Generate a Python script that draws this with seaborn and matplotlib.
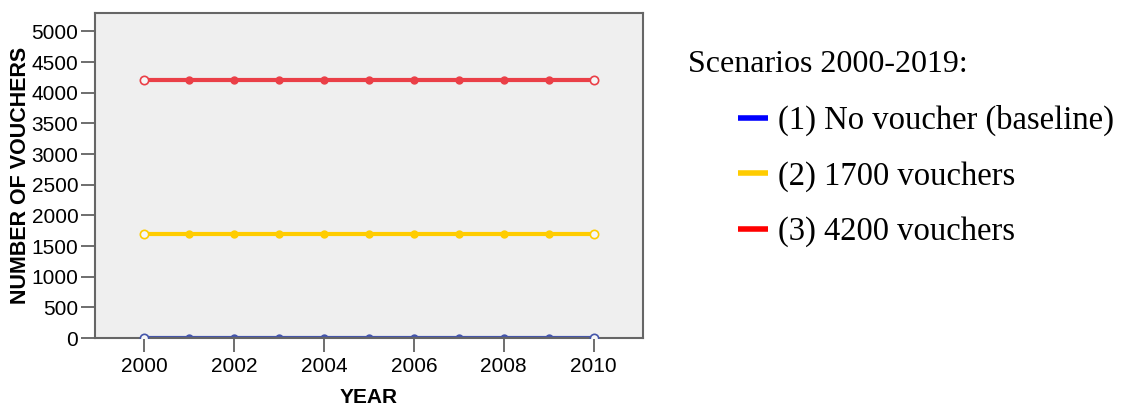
import numpy as np
import pandas as pd
import matplotlib
matplotlib.use("Agg")
import matplotlib.pyplot as plt
from matplotlib.lines import Line2D
import seaborn as sns

years = list(range(2000, 2011))
baseline = [0] * 11
vouchers_1700 = [1700] * 11
vouchers_4200 = [4200] * 11
scenario_labels = ["(1) No voucher (baseline)", "(2) 1700 vouchers", "(3) 4200 vouchers"]
line_colors = ["#4455aa", "#ffcc00", "#ea3f47"]
legend_colors = ["#0000ff", "#ffcc00", "#ff0000"]
x_ticks = [2000, 2002, 2004, 2006, 2008, 2010]
y_ticks = list(range(0, 5001, 500))

df = pd.DataFrame({
    "YEAR": years * 3,
    "VALUE": baseline + vouchers_1700 + vouchers_4200,
    "Scenario": [scenario_labels[0]] * 11 + [scenario_labels[1]] * 11 + [scenario_labels[2]] * 11,
})

sns.set_style("white")
plt.rcParams["font.family"] = ["Liberation Sans", "DejaVu Sans"]
plt.rcParams["text.color"] = "black"
plt.rcParams["axes.labelcolor"] = "black"
plt.rcParams["xtick.color"] = "black"
plt.rcParams["ytick.color"] = "black"

fig = plt.figure(figsize=(11.23, 4.05), dpi=100)
ax = fig.add_axes([95 / 1123, 1 - 338 / 405, (643 - 95) / 1123, (338 - 13) / 405])
ax.set_facecolor("#efefef")

sns.lineplot(data=df, x="YEAR", y="VALUE", hue="Scenario",
             palette=dict(zip(scenario_labels, line_colors)),
             linewidth=3, marker="o", markersize=5, markeredgewidth=1,
             legend=False, ax=ax)
for ln in ax.lines:
    ln.set_markeredgecolor(ln.get_color())
    ln.set_markerfacecolor(ln.get_color())

# hollow endpoint markers
for vals, c in zip([baseline, vouchers_1700, vouchers_4200], line_colors):
    ax.plot([years[0], years[-1]], [vals[0], vals[-1]], "o", mfc="#f6f6f6",
            mec=c, ms=6, mew=1.2, zorder=5)

ax.set_xlim(1998.9, 2011.1)
ax.set_ylim(0, 5300)
ax.set_xticks(x_ticks)
ax.set_yticks(y_ticks)
ax.tick_params(axis="both", direction="out", length=10, width=1.2, color="#555555",
               labelsize=15, pad=2, left=True, bottom=True, labelcolor="black")
ax.tick_params(axis="x", pad=4)
for s in ax.spines.values():
    s.set_color("#666666")
    s.set_linewidth(1.5)
ax.set_xlabel("YEAR", fontsize=15, fontweight="bold", labelpad=8, color="black")
ax.set_ylabel("NUMBER OF VOUCHERS", fontsize=15.5, fontweight="bold", labelpad=0, color="black")

fig.text(688 / 1123, 1 - 65 / 405, "Scenarios 2000-2019:", family="Liberation Serif",
         fontsize=23, va="center", ha="left", color="black")
handles = [Line2D([0], [0], color=c, lw=4, solid_capstyle="butt") for c in legend_colors]
leg = fig.legend(handles, scenario_labels, loc="upper left",
                 bbox_to_anchor=(738 / 1123, 1 - 105 / 405), frameon=False,
                 prop={"family": "Liberation Serif", "size": 23.5},
                 handlelength=0.92, handletextpad=0.3, labelspacing=0.76, borderpad=0,
                 borderaxespad=0)
for t in leg.get_texts():
    t.set_color("black")

fig.savefig("out.png", dpi=100)
